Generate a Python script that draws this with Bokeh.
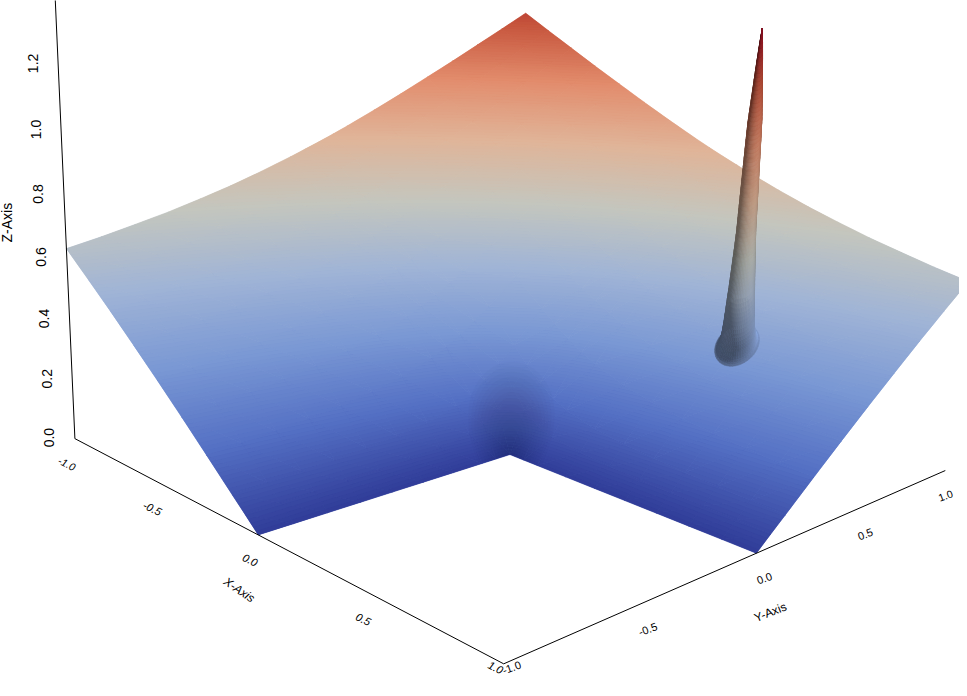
import math
import bisect
import numpy as np
from bokeh.plotting import figure
from bokeh.models import ColumnDataSource, Range1d
from bokeh.core.properties import value
from bokeh.embed import file_html
from bokeh.resources import INLINE

# Surface heights, estimated for this picture: edge and corner heights were read
# from the image (0 on the inner edges, about 0.63 and 1.26 at the outer corners)
# and the table was tabulated from the L-shaped corner form that fits those readings.
grid = [-1, -.875, -.75, -.625, -.5, -.375, -.25, -.125, -.0625, 0,
        .0625, .125, .25, .375, .5, .625, .75, .875, 1]
z_m100 = [.630,.557,.483,.406,.328,.248,.166,.083,.042,0]
z_m088 = [.650,.576,.500,.422,.341,.258,.173,.087,.044,0]
z_m075 = [.673,.598,.520,.440,.356,.271,.182,.092,.046,0]
z_m062 = [.697,.621,.543,.461,.375,.286,.193,.097,.049,0]
z_m050 = [.725,.648,.569,.485,.397,.304,.206,.105,.052,0]
z_m038 = [.755,.679,.598,.514,.424,.328,.225,.115,.058,0]
z_m025 = [.789,.713,.632,.548,.457,.358,.250,.130,.066,0]
z_m012 = [.826,.751,.671,.587,.497,.398,.288,.157,.082,0]
z_m006 = [.846,.771,.693,.609,.520,.423,.313,.181,.099,0]
z_p000 = [.866,.792,.715,.633,.546,.450,.344,.217,.136,0,0,0,0,0,0,0,0,0,0]
z_p006 = [.887,.814,.738,.658,.573,.481,.379,.263,.198,.136,.099,.082,.066,.058,.052,.049,.046,.044,.042]
z_p012 = [.909,.838,.763,.684,.602,.513,.418,.315,.263,.217,.181,.157,.130,.115,.105,.097,.092,.087,.083]
z_p025 = [.955,.886,.814,.740,.663,.583,.500,.418,.379,.344,.313,.288,.250,.225,.206,.193,.182,.173,.166]
z_p038 = [1.003,.937,.869,.799,.728,.655,.583,.513,.481,.450,.423,.398,.358,.328,.304,.286,.271,.258,.248]
z_p050 = [1.053,.989,.925,.860,.794,.728,.663,.602,.573,.546,.520,.497,.457,.424,.397,.375,.356,.341,.328]
z_p062 = [1.103,1.043,.982,.921,.860,.799,.740,.684,.658,.633,.609,.587,.548,.514,.485,.461,.440,.422,.406]
z_p075 = [1.155,1.098,1.040,.982,.925,.869,.814,.763,.738,.715,.693,.671,.632,.598,.569,.543,.520,.500,.483]
z_p088 = [1.207,1.153,1.098,1.043,.989,.937,.886,.838,.814,.792,.771,.751,.713,.679,.648,.621,.598,.576,.557]
z_p100 = [1.260,1.207,1.155,1.103,1.053,1.003,.955,.909,.887,.866,.846,.826,.789,.755,.725,.697,.673,.650,.630]
z_rows = [z_m100, z_m088, z_m075, z_m062, z_m050, z_m038, z_m025, z_m012, z_m006, z_p000,
          z_p006, z_p012, z_p025, z_p038, z_p050, z_p062, z_p075, z_p088, z_p100]

# The spike at x=0.5, y=0.5: radius and absolute height.
spike_x, spike_y = 0.5, 0.5
spike_r = [0, .004, .008, .0103, .0135, .017, .0206, .0225, .0245, .0265, .029, .032, .035,
           .0385, .0426, .0465, .050, .053, .056, .059, .062, .065, .069]
spike_z = [1.382, 1.34, 1.29, 1.258, 1.21, 1.16, 1.107, 1.04, .96, .88, .77, .71, .66,
           .60, .542, .480, .445, .427, .415, .407, .402, .399, .397]

x_ticks = [-1.0, -0.5, 0.0, 0.5, 1.0]
y_ticks = [-1.0, -0.5, 0.0, 0.5, 1.0]
z_ticks = [0.0, 0.2, 0.4, 0.6, 0.8, 1.0, 1.2]
z_axis_top = 1.4

# colour scale (z 0 .. 1.4), as it appears on the lit surface
cmap_pos = [0, .125, .25, .375, .5, .625, .75, .875, 1]
cmap_rgb = [(48, 60, 152), (84, 112, 196), (122, 152, 212), (160, 180, 214), (196, 198, 190),
            (224, 180, 152), (226, 140, 108), (198, 84, 60), (150, 8, 34)]
CLIM = 1.4

# radii of the dark pool around the inner corner, one translucent layer each
pool_r = [.01, .02, .03, .04, .05, .06, .07, .08, .09, .10, .11, .12, .13, .14]

# camera fitted to the axis corners
PX = (509.4312, 150.7737, 284.2219, -17.1635)
PY = (454.0848, 28.662, -12.8921, -315.5421)
PW = (1.0, -0.1266, 0.1262, -0.0555)

def proj(x, y, z):
    w = PW[0] + PW[1]*x + PW[2]*y + PW[3]*z
    return ((PX[0] + PX[1]*x + PX[2]*y + PX[3]*z)/w,
            (PY[0] + PY[1]*x + PY[2]*y + PY[3]*z)/w, w)

def rgb_of(z, s=1.0):
    t = min(max(z/CLIM, 0), 1)
    c = [np.interp(t, cmap_pos, [a[i] for a in cmap_rgb])*s for i in range(3)]
    return "#%02x%02x%02x" % tuple(int(min(max(round(v), 0), 255)) for v in c)

def clip(poly, level, keep_above):
    out = []
    n = len(poly)
    for i in range(n):
        a, b = poly[i], poly[(i+1) % n]
        ina = (a[2] >= level) if keep_above else (a[2] <= level)
        inb = (b[2] >= level) if keep_above else (b[2] <= level)
        if ina:
            out.append(a)
        if ina != inb:
            t = (level-a[2])/(b[2]-a[2])
            out.append((a[0]+t*(b[0]-a[0]), a[1]+t*(b[1]-a[1]), level))
    return out

def has(i, j):
    return i < len(z_rows[j])

def table_z(x, y):
    i = min(max(bisect.bisect_right(grid, x)-1, 0), len(grid)-2)
    j = min(max(bisect.bisect_right(grid, y)-1, 0), len(grid)-2)
    u = (x-grid[i])/(grid[i+1]-grid[i]); v = (y-grid[j])/(grid[j+1]-grid[j])
    def at(a, b):
        row = z_rows[b]
        return row[a] if a < len(row) else 0.0
    return ((1-u)*(1-v)*at(i, j)+u*(1-v)*at(i+1, j)+(1-u)*v*at(i, j+1)+u*v*at(i+1, j+1))

base_x, base_y, base_c = [], [], []
surf_x, surf_y, surf_c = [], [], []
STEP = 0.008
def add_tri(a, b, c):
    zs = [a[2], b[2], c[2]]
    pts = [proj(*q) for q in (a, b, c)]
    base_x.append([q[0] for q in pts]); base_y.append([q[1] for q in pts])
    base_c.append(rgb_of(sum(zs)/3))
    k0 = int(math.floor(min(zs)/STEP)); k1 = int(math.ceil(max(zs)/STEP))
    for k in range(k0, max(k1, k0+1)):
        lo, hi = k*STEP, (k+1)*STEP
        poly = clip(clip([a, b, c], lo, True), hi, False)
        if len(poly) < 3:
            continue
        pts = [proj(*q) for q in poly]
        surf_x.append([q[0] for q in pts])
        surf_y.append([q[1] for q in pts])
        surf_c.append(rgb_of((lo+hi)/2))

N = len(grid)
for j in range(N-1):
    for i in range(N-1):
        if not (has(i+1, j) and has(i, j) and has(i+1, j+1) and has(i, j+1)):
            continue
        p00 = (grid[i], grid[j], z_rows[j][i]); p10 = (grid[i+1], grid[j], z_rows[j][i+1])
        p01 = (grid[i], grid[j+1], z_rows[j+1][i]); p11 = (grid[i+1], grid[j+1], z_rows[j+1][i+1])
        add_tri(p00, p10, p11)
        add_tri(p00, p11, p01)

# dark pool: sectors of the surface around the inner corner
pool_x, pool_y = [], []
for r in pool_r:
    ring = [proj(0, 0, 0)]
    for m in range(37):
        a = 1.5*math.pi*m/36
        px_, py_ = r*math.cos(a), r*math.sin(a)
        ring.append(proj(px_, py_, table_z(px_, py_)))
    pool_x.append([q[0] for q in ring]); pool_y.append([q[1] for q in ring])

# spike
i0 = grid.index(spike_x); j0 = grid.index(spike_y)
z0 = z_rows[j0][i0]
gx = (z_rows[j0][i0+1]-z_rows[j0][i0-1])/(grid[i0+1]-grid[i0-1])
gy = (z_rows[j0+1][i0]-z_rows[j0-1][i0])/(grid[j0+1]-grid[j0-1])
AMB, DIF = 0.50, 0.63
Lh, Lz = 0.6, 0.8
def light(deg):
    return np.array((Lh*math.cos(math.radians(deg)), Lh*math.sin(math.radians(deg)), Lz))
L_WALL, L_FOOT = light(-10), light(45)
NPHI = 48
quads = []
for k in range(len(spike_r)-1):
    slope = (spike_z[k+1]-spike_z[k])/(spike_r[k+1]-spike_r[k])
    subs = max(1, int(math.ceil(abs(spike_z[k+1]-spike_z[k])/0.015)))
    for u in range(subs):
        r0 = spike_r[k]+(spike_r[k+1]-spike_r[k])*u/subs
        r1 = spike_r[k]+(spike_r[k+1]-spike_r[k])*(u+1)/subs
        z_a = spike_z[k]+(spike_z[k+1]-spike_z[k])*u/subs
        z_b = spike_z[k]+(spike_z[k+1]-spike_z[k])*(u+1)/subs
        for m in range(NPHI):
            a0, a1 = 2*math.pi*m/NPHI, 2*math.pi*(m+1)/NPHI
            am = (a0+a1)/2
            if r1 < 0.045 and math.cos(am+math.pi/4) < -0.25:
                continue          # the wall's far side is hidden behind its near side
            nv = np.array([-(slope*math.cos(am)+gx), -(slope*math.sin(am)+gy), 1.0])
            nv = nv/np.linalg.norm(nv)
            # the light over the wall swings round to the right at the foot
            t = min(max((r1-0.040)/0.012, 0), 1)
            L = L_WALL*(1-t)+L_FOOT*t
            s = (AMB+DIF*max(0, float(nv @ L)))/1.05
            corners = []
            for (r, zz, a) in [(r0, z_a, a0), (r1, z_b, a0), (r1, z_b, a1), (r0, z_a, a1)]:
                dx, dy = r*math.cos(a), r*math.sin(a)
                corners.append(proj(spike_x+dx, spike_y+dy, gx*dx+gy*dy+zz))
            wm = sum(c[2] for c in corners)/4
            quads.append((wm, [c[0] for c in corners], [c[1] for c in corners],
                          rgb_of((z_a+z_b)/2, s)))
quads.sort(key=lambda q: -q[0])

WIDTH, HEIGHT = 959, 680
p = figure(width=WIDTH, height=HEIGHT, output_backend="svg", toolbar_location=None,
           x_range=Range1d(0, WIDTH), y_range=Range1d(HEIGHT, 0),
           min_border=0, outline_line_color=None, background_fill_color="white",
           border_fill_color="white")
p.axis.visible = False
p.grid.visible = False

p.patches("xs", "ys", source=ColumnDataSource(dict(xs=base_x, ys=base_y, c=base_c)),
          fill_color="c", line_color="c", line_width=0.6)
p.patches("xs", "ys", source=ColumnDataSource(dict(xs=surf_x, ys=surf_y, c=surf_c)),
          fill_color="c", line_color=None)
p.patches("xs", "ys", source=ColumnDataSource(dict(xs=pool_x, ys=pool_y)),
          fill_color="black", fill_alpha=0.012, line_color=None)
p.patches("xs", "ys", source=ColumnDataSource(dict(xs=[q[1] for q in quads], ys=[q[2] for q in quads],
                                                   c=[q[3] for q in quads])),
          fill_color="c", line_color="c", line_width=0.5)

# axis lines
line_pts = [proj(-1, -1, z_axis_top), proj(-1, -1, 0), proj(1, -1, 0), proj(1, 1, 0)]
p.line([a[0] for a in line_pts], [a[1] for a in line_pts], line_color="black", line_width=1)

FONT = "Liberation Sans"
def labels(xs, ys, txt, sizes, angle, style):
    p.text(xs, ys, text=txt, text_font=value(FONT), text_font_size=sizes, angle=angle,
           text_align="center", text_baseline="middle", text_color="black",
           text_font_style=style)

fmt = lambda v: f"{v:.1f}"
LIMIT_Y, LIMIT_X = 667, 945   # the window ends before the outermost labels: keep them inside
xp = [proj(v, -1, 0) for v in x_ticks]
labels([a[0]-8 for a in xp], [min(a[1]+25, LIMIT_Y) for a in xp], [fmt(v) for v in x_ticks],
       [f"{min(10.5/a[2], 11):.1f}px" for a in xp], -0.45, "italic")
yp = [proj(1, v, 0) for v in y_ticks]
labels([min(a[0]+8, LIMIT_X) for a in yp], [min(a[1]+25, LIMIT_Y) for a in yp], [fmt(v) for v in y_ticks],
       [f"{min(10.5/a[2], 11):.1f}px" for a in yp], 0.35, "normal")
zp = [proj(-1, -1, v) for v in z_ticks]
labels([a[0]-25.5 for a in zp], [a[1]-1 for a in zp], [fmt(v) for v in z_ticks],
       ["14px"]*len(z_ticks), math.pi/2, "normal")

xa = proj(0, -1, 0); ya = proj(1, 0, 0); za = proj(-1, -1, 0.7)
labels([xa[0]-19], [xa[1]+55], ["X-Axis"], ["12px"], -0.6, "italic")
labels([ya[0]+14], [ya[1]+59], ["Y-Axis"], ["12px"], 0.38, "normal")
labels([za[0]-58], [za[1]-4], ["Z-Axis"], ["14px"], math.pi/2, "normal")

open("out.html", "w").write(file_html(p, INLINE))
